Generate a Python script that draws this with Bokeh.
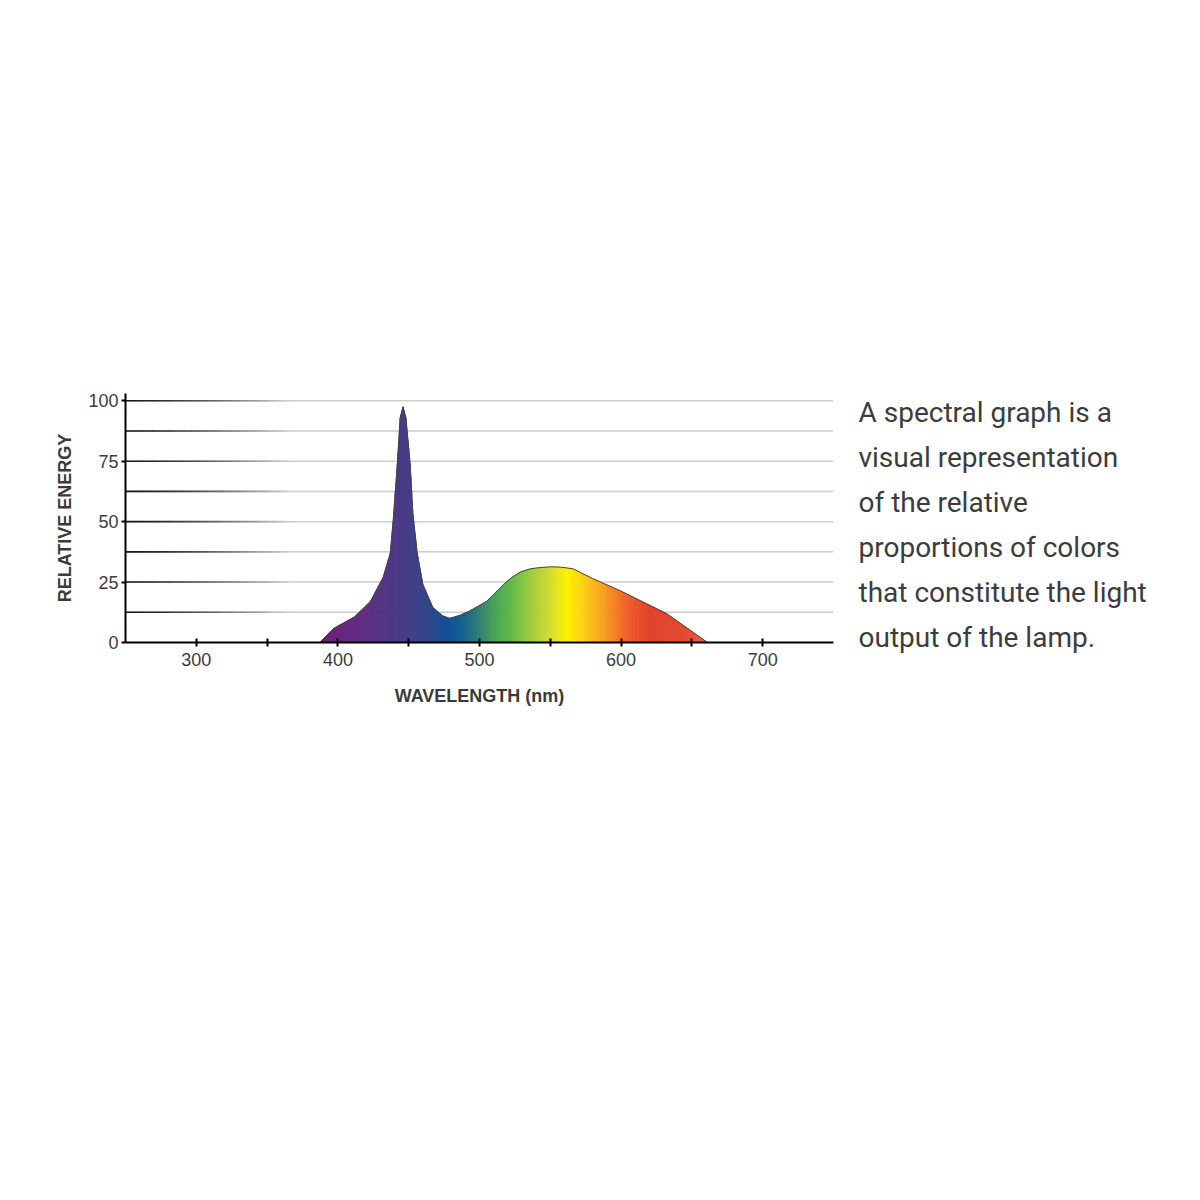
#!/usr/bin/env python3
"""
Spectral graph of a lamp: relative energy per wavelength, filled with
the colours of the visible spectrum, plus an explanatory note.
"""

import numpy as np
from bokeh.plotting import figure
from bokeh.embed import file_html
from bokeh.resources import INLINE
from bokeh.layouts import row
from bokeh.core.properties import value
from bokeh.models import FixedTicker, Range1d


# Spectral distribution (nm, relative energy)
wavelength = [387, 397, 412, 423, 432, 437, 439, 442, 444, 446, 448, 451,
              453, 456, 460, 467, 474, 479, 486, 493, 505, 511, 517, 523,
              529, 536, 543, 550, 557, 566, 580, 599, 618, 632, 647, 661]
energy = [0, 5.8, 10.7, 17, 27, 37, 50, 74, 93, 97.5, 93, 74,
          53, 37, 24, 14.5, 11, 10, 11.2, 13, 17, 20.5, 24, 27,
          29.2, 30.5, 31, 31.3, 31.2, 30.5, 26.4, 21.5, 16, 12, 5.8, 0]

# Axis ticks
x_major_ticks = [300, 400, 500, 600, 700]
x_minor_ticks = [350, 450, 550, 650]
y_major_ticks = [0, 25, 50, 75, 100]
y_minor_ticks = [12.5, 37.5, 62.5, 87.5]

# Note on the right hand side
note_lines = [
    "A spectral graph is a",
    "visual representation",
    "of the relative",
    "proportions of colors",
    "that constitute the light",
    "output of the lamp.",
]

# Colour of the spectrum at a given wavelength (style only)
SPECTRUM_STOPS = [
    (387, "#6a1d6c"), (400, "#66237a"), (425, "#582e82"), (450, "#433a87"),
    (465, "#2e4489"), (478, "#0c4d94"), (490, "#16638a"), (500, "#2f7f75"),
    (510, "#46a056"), (522, "#5db946"), (538, "#a6cc3a"), (552, "#d8e02a"),
    (562, "#fff200"), (576, "#fdc716"), (590, "#f7971d"), (604, "#ef5f29"),
    (620, "#e3412a"), (645, "#e2472d"), (661, "#ea6448"),
]

TEXT_COLOR = "#3c3c3c"
GRID_COLOR = "#cccccc"
FIG_HEIGHT = 1180
FRAME_TOP = 393
CHART_RIGHT = 125 + 708 + 10


def hex_to_rgb(h):
    return [int(h[i:i + 2], 16) for i in (1, 3, 5)]


def rgb_hex(c):
    return "#%02x%02x%02x" % tuple(int(round(v)) for v in c)


def spectrum_color(nm):
    stops = [s[0] for s in SPECTRUM_STOPS]
    rgb = np.array([hex_to_rgb(s[1]) for s in SPECTRUM_STOPS], dtype=float)
    return rgb_hex([np.interp(nm, stops, rgb[:, k]) for k in range(3)])


def build_chart():
    p = figure(
        frame_width=708,
        frame_height=249,
        min_border_left=125,
        min_border_right=10,
        min_border_top=FRAME_TOP,
        min_border_bottom=FIG_HEIGHT - FRAME_TOP - 249,
        x_range=Range1d(250, 750),
        y_range=Range1d(0, 103),
        output_backend="svg",
        toolbar_location=None,
    )
    p.outline_line_color = None
    p.background_fill_color = "white"
    p.border_fill_color = "white"
    p.xgrid.visible = False
    p.ygrid.visible = False

    grid_levels = sorted(y_major_ticks[1:] + y_minor_ticks)

    # Light grey grid lines, darkening towards the y axis
    p.segment(x0=250, x1=750, y0=grid_levels, y1=grid_levels,
              line_color=GRID_COLOR, line_width=1.5)
    fade_x, fade_y, fade_c = [], [], []
    steps = 30
    edges = np.linspace(250, 365, steps + 1)
    dark = np.array([25, 25, 25])
    light = np.array(hex_to_rgb(GRID_COLOR))
    for gy in grid_levels:
        for i in range(steps):
            t = (i / (steps - 1)) ** 1.4
            fade_x.append([edges[i], edges[i + 1] + 0.3])
            fade_y.append([gy, gy])
            fade_c.append(rgb_hex(dark + (light - dark) * t))
    p.multi_line(fade_x, fade_y, line_color=fade_c, line_width=1.6)

    # Spectrum fill: thin vertical slices under the curve
    xs = np.arange(wavelength[0], wavelength[-1] + 0.001, 0.5)
    hs = np.interp(xs, wavelength, energy)
    patch_x, patch_y, patch_c = [], [], []
    for i in range(len(xs) - 1):
        patch_x.append([xs[i], xs[i], xs[i + 1], xs[i + 1]])
        patch_y.append([0, hs[i], hs[i + 1], 0])
        patch_c.append(spectrum_color((xs[i] + xs[i + 1]) / 2))
    p.patches(patch_x, patch_y, fill_color=patch_c, line_color=patch_c,
              line_width=0.6)

    # Thin outline on the curve
    p.line(wavelength, energy, line_color="#454545", line_width=1)

    # X axis
    p.xaxis.ticker = FixedTicker(ticks=x_major_ticks, minor_ticks=x_minor_ticks)
    p.xaxis.axis_label = "WAVELENGTH (nm)"
    p.xaxis.axis_line_color = "black"
    p.xaxis.axis_line_width = 2
    p.xaxis.major_tick_line_width = 2
    p.xaxis.minor_tick_line_width = 2
    p.xaxis.major_tick_in = 4
    p.xaxis.major_tick_out = 4
    p.xaxis.minor_tick_in = 4
    p.xaxis.minor_tick_out = 4
    p.xaxis.major_label_standoff = 6
    p.xaxis.axis_label_standoff = 17

    # Y axis
    p.yaxis.ticker = FixedTicker(ticks=y_major_ticks, minor_ticks=y_minor_ticks)
    p.yaxis.axis_label = "RELATIVE ENERGY"
    p.yaxis.axis_line_color = "black"
    p.yaxis.axis_line_width = 2
    p.yaxis.major_tick_line_width = 2
    p.yaxis.major_tick_in = 0
    p.yaxis.major_tick_out = 4
    p.yaxis.minor_tick_in = 0
    p.yaxis.minor_tick_out = 0
    p.yaxis.major_label_standoff = 3
    p.yaxis.axis_label_standoff = 10

    for ax in (p.xaxis, p.yaxis):
        ax.major_label_text_font = "Liberation Sans"
        ax.major_label_text_font_size = "18px"
        ax.major_label_text_color = TEXT_COLOR
        ax.axis_label_text_font = "Liberation Sans"
        ax.axis_label_text_font_size = "18px"
        ax.axis_label_text_font_style = "bold"
        ax.axis_label_text_color = "#3a3a3a"

    return p


def build_note(left):
    # Frame top is aligned with the chart's frame; one data unit per page pixel
    width = 1200 - left
    frame_h = 320
    q = figure(
        frame_width=width,
        frame_height=frame_h,
        min_border_left=0,
        min_border_right=0,
        min_border_top=FRAME_TOP,
        min_border_bottom=FIG_HEIGHT - FRAME_TOP - frame_h,
        x_range=Range1d(left, 1200),
        y_range=Range1d(FRAME_TOP + frame_h, FRAME_TOP),
        x_axis_location=None,
        y_axis_location=None,
        output_backend="svg",
        toolbar_location=None,
    )
    q.grid.visible = False
    q.outline_line_color = None
    q.border_fill_color = "white"

    baselines = [412 + 45 * i for i in range(len(note_lines))]
    q.text(
        x=[858] * len(note_lines),
        y=baselines,
        text=note_lines,
        text_font=value("Roboto"),
        text_font_size="28px",
        text_color=TEXT_COLOR,
        text_baseline="alphabetic",
        text_align="left",
    )
    return q


if __name__ == "__main__":
    chart = build_chart()
    note = build_note(left=CHART_RIGHT)
    layout = row(chart, note)
    open("out.html", "w").write(file_html(layout, INLINE))
